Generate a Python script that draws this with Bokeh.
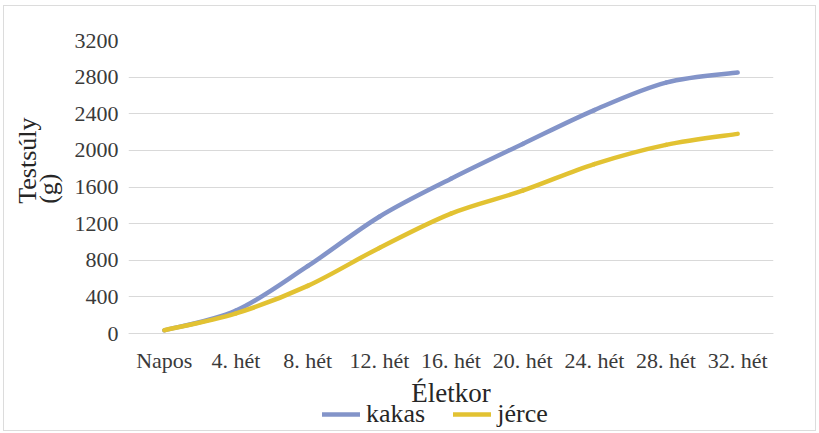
from bokeh.plotting import figure
from bokeh.models import (Range1d, FixedTicker, Legend, LegendItem, ColumnDataSource, Title)
from bokeh.embed import file_html
from bokeh.resources import INLINE

# Age groups on the x axis and body weight (g) of the two sexes
ages = ["Napos", "4. hét", "8. hét", "12. hét", "16. hét",
        "20. hét", "24. hét", "28. hét", "32. hét"]
kakas = [35, 250, 735, 1275, 1690, 2070, 2440, 2740, 2850]
jerce = [35, 220, 520, 935, 1310, 1560, 1850, 2060, 2180]
y_ticks = [0, 400, 800, 1200, 1600, 2000, 2400, 2800, 3200]

BLUE = "#8394c9"
YELLOW = "#e2c232"
FONT = "Liberation Serif"
TXT = "#3a3a3a"

xs = [i + 0.5 for i in range(len(ages))]

# the frame runs on below zero so that the axis texts and legend sit inside it
PLOT_H = 293      # pixels taken by 0..3200
BELOW_H = 97      # pixels under the zero line
Y_MAX = y_ticks[-1]
Y_MIN = -Y_MAX * BELOW_H / PLOT_H


def smooth_segments(x, y):
    """Cubic Bezier segments through the points (Catmull-Rom style smoothing)."""
    n = len(x)
    seg = dict(x0=[], y0=[], x1=[], y1=[], cx0=[], cy0=[], cx1=[], cy1=[])
    for i in range(n - 1):
        im1 = max(i - 1, 0)
        ip2 = min(i + 2, n - 1)
        seg["x0"].append(x[i]); seg["y0"].append(y[i])
        seg["x1"].append(x[i + 1]); seg["y1"].append(y[i + 1])
        seg["cx0"].append(x[i] + (x[i + 1] - x[im1]) / 6)
        seg["cy0"].append(y[i] + (y[i + 1] - y[im1]) / 6)
        seg["cx1"].append(x[i + 1] - (x[ip2] - x[i]) / 6)
        seg["cy1"].append(y[i + 1] - (y[ip2] - y[i]) / 6)
    return ColumnDataSource(seg)


p = figure(frame_width=645, frame_height=PLOT_H + BELOW_H,
           output_backend="svg", toolbar_location=None,
           x_range=Range1d(0, len(ages)), y_range=Range1d(Y_MIN, Y_MAX),
           min_border_left=124, min_border_right=42,
           min_border_top=34, min_border_bottom=0)
p.styles = {"border": "1px solid #dcdcdc", "margin-left": "3px", "margin-top": "5px"}
p.outline_line_color = None
p.background_fill_color = "white"
p.border_fill_color = "white"

# grid
p.xgrid.visible = False
p.ygrid.grid_line_color = "#d9d9d9"
p.ygrid.grid_line_width = 1

# axes
p.xaxis.ticker = FixedTicker(ticks=xs)
p.xaxis.major_label_overrides = {x: lab for x, lab in zip(xs, ages)}
p.xaxis.fixed_location = 0
p.yaxis.ticker = FixedTicker(ticks=y_ticks)
for ax in (p.xaxis, p.yaxis):
    ax.major_tick_line_color = None
    ax.minor_tick_line_color = None
    ax.major_label_text_font = FONT
    ax.major_label_text_font_size = "22px"
    ax.major_label_text_color = TXT
    ax.axis_label_text_font = FONT
    ax.axis_label_text_font_style = "normal"
    ax.axis_label_text_color = "#262626"
p.yaxis.axis_line_color = None
p.xaxis.axis_line_color = "#d9d9d9"
p.yaxis.major_label_standoff = 4
p.xaxis.major_label_standoff = 8

p.xaxis.axis_label = "Életkor"
p.xaxis.axis_label_text_font_size = "27px"
p.xaxis.axis_label_standoff = 2

# y axis title, anchored to the top of the 0..3200 part of the frame
ytitle = Title(text="Testsúly\n(g)\u00a0\u00a0\u00a0\u00a0", align="right", offset=77,
               vertical_align="middle", standoff=14,
               text_font=FONT, text_font_size="26px", text_font_style="normal",
               text_color="#262626", text_line_height=0.75)
p.add_layout(ytitle, "left")

# smoothed growth curves
rk = p.bezier(source=smooth_segments(xs, kakas), x0="x0", y0="y0", x1="x1", y1="y1",
              cx0="cx0", cy0="cy0", cx1="cx1", cy1="cy1",
              line_color=BLUE, line_width=4.5, line_cap="round")
rj = p.bezier(source=smooth_segments(xs, jerce), x0="x0", y0="y0", x1="x1", y1="y1",
              cx0="cx0", cy0="cy0", cx1="cx1", cy1="cy1",
              line_color=YELLOW, line_width=4.5, line_cap="round")

# legend under the axis title
legend = Legend(items=[LegendItem(label="kakas", renderers=[rk]),
                       LegendItem(label="jérce", renderers=[rj])],
                orientation="horizontal", location=(194, 1),
                label_text_font=FONT, label_text_font_size="26px",
                label_text_font_style="normal",
                label_text_color="#262626", label_height=26,
                label_text_line_height=0.9,
                glyph_width=38, glyph_height=26, label_standoff=6,
                spacing=28, padding=0, margin=0,
                border_line_color=None, background_fill_alpha=0)
p.add_layout(legend)

open("out.html", "w").write(file_html(p, INLINE))
